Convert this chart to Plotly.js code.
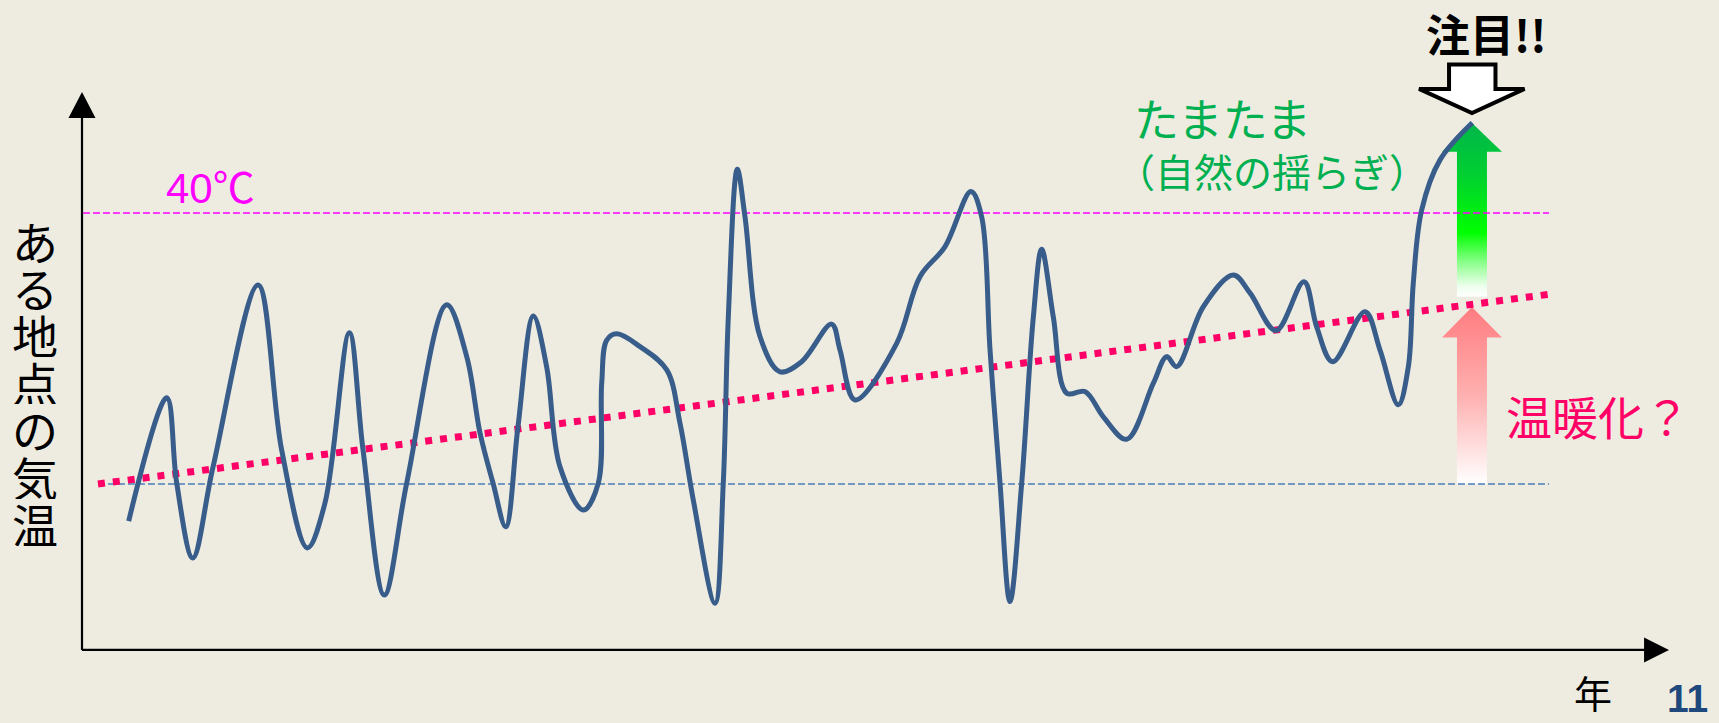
<!DOCTYPE html>
<html>
<head>
<meta charset="utf-8">
<script src="https://cdn.plot.ly/plotly-3.0.1.min.js"></script>
<style>
  html, body { margin: 0; padding: 0; background: #EEECE1; }
  #chart { width: 1719px; height: 723px; }
</style>
</head>
<body>
<div id="chart"></div>
<script>
// Yearly temperature at one location (year index, °C)
const years = [3.89, 7.06, 7.89, 9.23, 10.92, 14.67, 16.64, 18.78, 20.25, 22.28,
  23.42, 25.19, 27.06, 30.39, 32.06, 33.17, 34.25, 35.31, 36.33, 37.61,
  38.72, 39.83, 41.78, 43.03, 43.31, 43.73, 44.56, 46.5, 48.73, 49.83,
  50.94, 52.75, 53.44, 53.86, 54.61, 55.25, 56.5, 58.17, 59.97, 62.47,
  63.17, 64.42, 67.89, 69.83, 71.92, 74.08, 74.97, 75.67, 76.5, 77.33,
  78.31, 79.28, 79.97, 80.94, 82.06, 83.58, 85.11, 87.06, 89.28, 90.39,
  91.22, 93.44, 95.94, 97.33, 99.5, 101.83, 102.89, 104.22, 106.92, 108.17,
  109.69, 110.53, 110.94, 111.64, 113.17, 115.86];
const temps = [28.63, 33.18, 30.04, 27.27, 30.63, 37.34, 31.25, 27.64, 29.30, 35.58,
  31.25, 25.90, 30.04, 36.61, 34.70, 31.88, 30.04, 28.42, 32.11, 36.20,
  34.33, 30.64, 29.04, 30.04, 33.73, 35.31, 35.54, 35.07, 34.21, 32.25,
  29.41, 25.60, 30.04, 36.17, 41.61, 39.86, 35.44, 34.14, 34.51, 35.90,
  34.94, 33.10, 35.19, 37.65, 38.76, 40.79, 39.86, 34.94, 30.04, 25.66,
  30.04, 36.17, 38.66, 36.17, 33.35, 33.41, 32.48, 31.65, 33.72, 34.70,
  34.33, 36.54, 37.71, 37.05, 35.66, 37.46, 35.80, 34.51, 36.36, 34.94,
  32.92, 34.33, 37.41, 40.11, 41.96, 43.33];

// Warming trend (start / end)
const trendYears = [1.33, 122.25];
const trendTemps = [30.0, 37.0];

// Reference levels
const baseTemp = 30;
const hotTemp = 40;
const hotYears = [0.08, 122.25];
const baseYears = [1.33, 122.25];

// Texts
const yLabel = 'ある地点の気温';
const xLabel = '年';
const pageNo = '11';
const hotLabel = '40℃';
const chanceLabel = 'たまたま';
const chanceSub = '（自然の揺らぎ）';
const warmLabel = '温暖化？';
const noticeLabel = '注目!!';

// Axis ranges (year index / °C)
const xRange = [-6.833, 136.417];
const yRange = [21.18, 47.86];

const JP = '"Noto Sans CJK JP", "Noto Sans", sans-serif';
const LAT = '"Liberation Sans", Arial, "Noto Sans CJK JP", sans-serif';

// Arrow geometry for the last year
const arrowX = 115.83;
const shaftHalf = 1.25;
const headHalf = 2.5;

const greenArrow = {
  x: [arrowX - shaftHalf, arrowX - shaftHalf, arrowX - headHalf, arrowX, arrowX + headHalf, arrowX + shaftHalf, arrowX + shaftHalf, arrowX - shaftHalf],
  y: [36.91, 42.26, 42.26, 43.32, 42.26, 42.26, 36.91, 36.91],
  type: 'scatter', mode: 'none', fill: 'toself', hoverinfo: 'skip',
  fillgradient: {
    type: 'vertical', start: 36.91, stop: 43.32,
    colorscale: [[0, '#FFFFFF'], [0.06, '#EEFFEE'], [0.2, '#88FF88'], [0.37, '#00FF00'], [0.7, '#00D030'], [1, '#00B64A']]
  },
  showlegend: false
};
const pinkArrow = {
  x: [arrowX - shaftHalf, arrowX - shaftHalf, arrowX - headHalf, arrowX, arrowX + headHalf, arrowX + shaftHalf, arrowX + shaftHalf, arrowX - shaftHalf],
  y: [baseTemp, 35.41, 35.41, 36.53, 35.41, 35.41, baseTemp, baseTemp],
  type: 'scatter', mode: 'none', fill: 'toself', hoverinfo: 'skip',
  fillgradient: {
    type: 'vertical', start: baseTemp, stop: 36.53,
    colorscale: [[0, '#FFFFFF'], [0.5, '#FFB0B0'], [1, '#FF7C80']]
  },
  showlegend: false
};

const hotLine = {
  x: hotYears, y: [hotTemp, hotTemp], type: 'scatter', mode: 'lines',
  line: { color: '#FF00FF', width: 1.5, dash: '7px,3px' }, hoverinfo: 'skip', showlegend: false
};
const baseLine = {
  x: baseYears, y: [baseTemp, baseTemp], type: 'scatter', mode: 'lines',
  line: { color: '#4A7EBB', width: 1.5, dash: '7px,3px' }, hoverinfo: 'skip', showlegend: false
};
const trend = {
  x: trendYears, y: trendTemps, type: 'scatter', mode: 'lines',
  line: { color: '#FF0066', width: 7, dash: '7px,8px' }, hoverinfo: 'skip', showlegend: false
};
const series = {
  x: years, y: temps, type: 'scatter', mode: 'lines',
  line: { color: '#385D8A', width: 5, shape: 'spline', smoothing: 1 },
  showlegend: false
};

// Axis arrows and the hollow "notice" arrow
const axisY0 = 23.875;
const shapes = [
  { type: 'line', xref: 'x', yref: 'y', x0: 0, x1: 0, y0: axisY0, y1: 43.6, line: { color: '#000', width: 2.2 } },
  { type: 'path', xref: 'x', yref: 'y', path: 'M -1.125,43.506 L 0,44.465 L 1.125,43.506 Z', fillcolor: '#000', line: { width: 0 } },
  { type: 'line', xref: 'x', yref: 'y', x0: 0, x1: 130.3, y0: axisY0, y1: axisY0, line: { color: '#000', width: 2.2 } },
  { type: 'path', xref: 'x', yref: 'y', path: 'M 130.17,' + (axisY0 + 0.461) + ' L 132.25,' + axisY0 + ' L 130.17,' + (axisY0 - 0.461) + ' Z', fillcolor: '#000', line: { width: 0 } },
  { type: 'path', xref: 'x', yref: 'y',
    path: 'M 113.92,45.48 L 117.79,45.48 L 117.79,44.58 L 120.21,44.58 L 115.83,43.69 L 111.42,44.58 L 113.92,44.58 Z',
    fillcolor: '#FFFFFF', line: { color: '#000', width: 4 } }
];

const annotations = [
  { x: 10.67, y: 40.89, text: hotLabel, font: { family: LAT, size: 42, color: '#FF00FF' } },
  { x: 95.0, y: 43.54, text: chanceLabel, font: { family: JP, size: 45, color: '#00B050' } },
  { x: 99.17, y: 41.59, text: chanceSub, font: { family: JP, size: 39, color: '#00B050' } },
  { x: 126.3, y: 32.56, text: warmLabel, font: { family: JP, size: 46, color: '#FF0066' } },
  { x: 117.08, y: 46.66, text: '<b>' + noticeLabel + '</b>', font: { family: JP, size: 44, color: '#000000' } },
  { x: 125.92, y: 22.33, text: xLabel, font: { family: JP, size: 38, color: '#000000' } },
  { x: 133.75, y: 22.10, text: '<b>' + pageNo + '</b>', font: { family: LAT, size: 39, color: '#1F497D' } }
].map(a => Object.assign({ xref: 'x', yref: 'y', showarrow: false, xanchor: 'center', yanchor: 'middle' }, a));

// Vertical axis label, one character per row
Array.from(yLabel).forEach((ch, i) => {
  const py = 239.5 + i * 47.25;
  annotations.push({
    xref: 'x', yref: 'y', x: -3.92, y: 30 + (484 - py) / 27.1,
    text: ch, showarrow: false, xanchor: 'center', yanchor: 'middle',
    height: 46, valign: 'middle',
    font: { family: JP, size: 46, color: '#000000' }
  });
});

const layout = {
  width: 1719, height: 723,
  margin: { l: 0, r: 0, t: 0, b: 0, pad: 0 },
  paper_bgcolor: '#EEECE1', plot_bgcolor: '#EEECE1',
  xaxis: { range: xRange, visible: false, fixedrange: true },
  yaxis: { range: yRange, visible: false, fixedrange: true },
  shapes: shapes,
  annotations: annotations,
  showlegend: false
};

Plotly.newPlot('chart', [greenArrow, pinkArrow, hotLine, baseLine, trend, series], layout,
  { displayModeBar: false, staticPlot: true });
</script>
</body>
</html>
